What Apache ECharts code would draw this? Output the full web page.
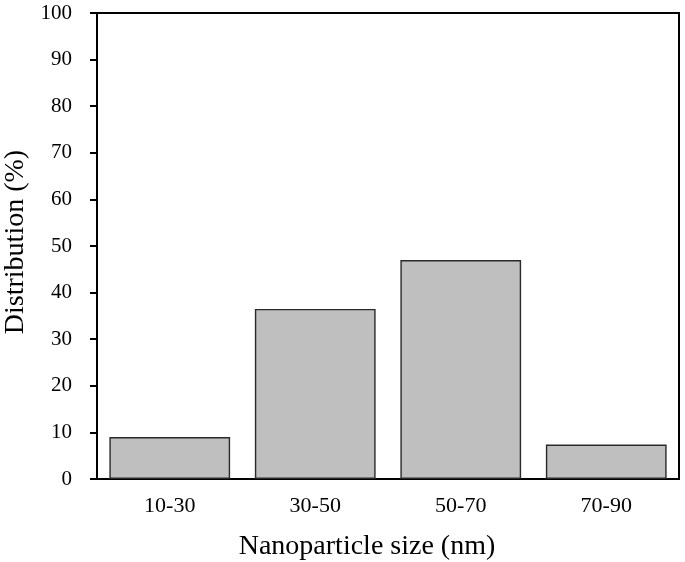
<!DOCTYPE html>
<html><head><meta charset="utf-8">
<script src="https://cdn.jsdelivr.net/npm/echarts@6/dist/echarts.min.js"></script>
<style>html,body{margin:0;padding:0;background:#fff}#c{width:685px;height:562px}</style>
</head><body><div id="c"></div>
<script>
const categories = ['10-30', '30-50', '50-70', '70-90'];
const distribution = [9.0, 36.5, 47.0, 7.4];
const yTicks = { min: 0, max: 100, interval: 10 };

const font = '"Liberation Serif", "Times New Roman", serif';
const chart = echarts.init(document.getElementById('c'));
chart.setOption({
  animation: false,
  grid: { left: 97, top: 13, right: 6, bottom: 83, show: true, borderColor: '#000', borderWidth: 2, backgroundColor: 'transparent', containLabel: false, outerBoundsMode: 'none' },
  xAxis: {
    type: 'category', data: categories,
    name: 'Nanoparticle size (nm)', nameLocation: 'middle', nameGap: 54,
    nameTextStyle: { fontFamily: font, fontSize: 28, color: '#000', padding: [0, 42, 0, 0] },
    axisLine: { lineStyle: { color: '#000', width: 2 } },
    axisTick: { show: false },
    axisLabel: { fontFamily: font, fontSize: 22, color: '#000', margin: 16 }
  },
  yAxis: {
    type: 'value', min: yTicks.min, max: yTicks.max, interval: yTicks.interval,
    name: 'Distribution (%)', nameLocation: 'middle', nameGap: 67,
    nameTextStyle: { fontFamily: font, fontSize: 28, color: '#000', padding: [0, 0, 0, 8] },
    axisLine: { show: true, lineStyle: { color: '#000', width: 2 } },
    axisTick: { show: true, length: 7, lineStyle: { color: '#000', width: 2 } },
    splitLine: { show: false },
    axisLabel: { fontFamily: font, fontSize: 21, color: '#000', margin: 25 }
  },
  series: [{
    type: 'bar', data: distribution, barCategoryGap: '17%',
    itemStyle: { color: '#bfbfbf', borderColor: '#2a2a2a', borderWidth: 1.4 }
  }]
});
</script></body></html>
